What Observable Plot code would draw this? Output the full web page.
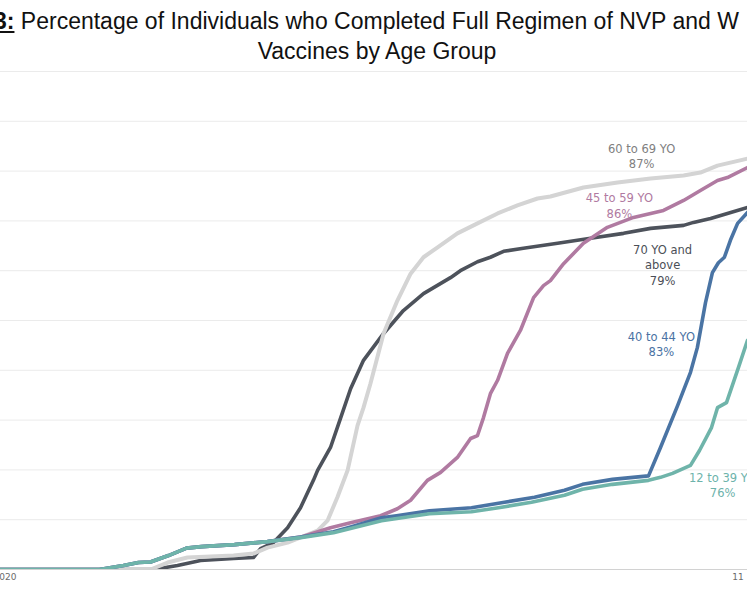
<!DOCTYPE html>
<html><head><meta charset="utf-8">
<script src="https://cdn.jsdelivr.net/npm/d3@7"></script>
<script src="https://cdn.jsdelivr.net/npm/@observablehq/plot@0.6"></script>
<style>
html,body{margin:0;padding:0;background:#fff;}
#wrap{position:relative;width:747px;height:598px;overflow:hidden;background:#fff;}
.t{position:absolute;z-index:2;font-family:"Liberation Sans",Arial,sans-serif;font-size:23px;line-height:23px;color:#111;white-space:nowrap;}
#t1{left:-6px;top:9.5px;}
#t2{left:0;width:754px;text-align:center;top:40px;}
#chart{position:absolute;z-index:1;left:0;top:60px;}
</style></head>
<body><div id="wrap">
<div id="chart"></div>
<div class="t" id="t1"><b><u>3:</u></b> Percentage of Individuals who Completed Full Regimen of NVP and W</div>
<div class="t" id="t2">Vaccines by Age Group</div>
</div>
<script>
// Age groups (drawing order: bottom to top)
const groups = ["70 YO and above", "60 to 69 YO", "45 to 59 YO", "40 to 44 YO", "12 to 39 YO"];
const colors = ["#4d525b", "#d4d4d4", "#b07aa1", "#4a74a4", "#6fb4aa"];

// Series: day index and % fully vaccinated
const days70 = [0, 51, 59, 66.7, 77.7, 84.3, 86.7, 91, 95.7, 100, 104.3, 105.7, 110, 113.3, 116.7, 121, 127.7, 134.3, 141, 150, 153.3, 159, 163.3, 167.7, 174.3, 185.7, 196.7, 207.7, 216.7, 227.7, 231, 236.7, 242.3, 249];
const pct70 = [0, 0, 0.8, 1.8, 2.2, 2.4, 4.2, 5.4, 8.4, 12.4, 17.9, 19.9, 24.5, 30.3, 36.3, 42.0, 47.4, 52.0, 55.4, 58.6, 60.0, 61.8, 62.7, 63.9, 64.5, 65.5, 66.5, 67.5, 68.5, 69.1, 69.7, 70.5, 71.5, 72.7];

const days60 = [0, 50, 55.7, 62.3, 77.7, 84.3, 89, 95.7, 105.7, 109, 112.3, 115.7, 119, 121, 123.3, 127.7, 132.3, 136.7, 141, 145.7, 152.3, 159, 165.7, 172.3, 179, 183.3, 194.3, 205.7, 216.7, 227.7, 233.3, 239, 249];
const pct60 = [0, 0, 1.4, 2.4, 2.8, 3.2, 4.4, 5.4, 7.8, 9.8, 14.5, 19.9, 28.9, 32.5, 37.3, 47.4, 54.0, 59.4, 62.7, 64.7, 67.5, 69.5, 71.5, 73.1, 74.5, 74.9, 76.7, 77.7, 78.5, 79.1, 79.7, 81.1, 82.5];

const days45 = [0, 33, 41, 46, 50, 56, 62, 67, 78, 89, 100, 110, 116.7, 126.7, 132.3, 136.7, 142.3, 146.7, 152.3, 156.7, 159, 161, 163.3, 165.7, 169, 173.3, 177.7, 181, 183.3, 187.7, 194.3, 202.3, 211, 221, 227.7, 233.3, 239, 242.3, 249];
const pct45 = [0, 0, 0.8, 1.4, 1.5, 2.8, 4.3, 4.6, 5.0, 5.6, 6.5, 8.4, 9.4, 10.8, 12.2, 13.9, 17.9, 19.5, 22.5, 26.3, 26.9, 30.5, 35.3, 38.0, 43.4, 48.0, 54.6, 57.0, 58.0, 61.4, 65.5, 68.7, 70.7, 72.1, 74.1, 76.1, 78.1, 78.7, 80.7];

const days40 = [0, 33, 41, 46, 50, 56, 62, 67, 78, 89, 100, 111, 117, 127, 132, 143, 157, 168, 178, 188, 194, 204, 216, 220, 225.7, 230, 232.3, 235, 237.3, 239.3, 241.3, 243.3, 245.7, 249];
const pct40 = [0, 0, 0.8, 1.4, 1.5, 2.8, 4.3, 4.6, 5.0, 5.6, 6.5, 7.6, 8.6, 10.4, 10.8, 11.8, 12.4, 13.5, 14.5, 15.9, 17.1, 18.1, 18.8, 24.5, 32.9, 39.6, 44.6, 53.6, 59.6, 61.6, 62.7, 66.1, 69.5, 71.7];

const days12 = [0, 33, 41, 46, 50, 56, 62, 67, 78, 89, 100, 111, 117, 127, 143, 157, 166, 177, 188, 194, 204, 216, 220, 224, 230, 233, 237, 239, 242, 246, 249];
const pct12 = [0, 0, 0.8, 1.4, 1.5, 2.8, 4.3, 4.6, 5.0, 5.6, 6.4, 7.4, 8.3, 9.8, 11.2, 11.6, 12.4, 13.5, 14.9, 16.1, 17.1, 17.9, 18.5, 19.3, 20.9, 23.9, 28.5, 32.5, 33.5, 40.6, 46.0];

const seriesDays = [days70, days60, days45, days40, days12];
const seriesPct = [pct70, pct60, pct45, pct40, pct12];

// Annotations
const labelTexts = ["70 YO and\nabove\n79%", "60 to 69 YO\n87%", "45 to 59 YO\n86%", "40 to 44 YO\n83%", "12 to 39 YO\n76%"];
const labelDays = [220.7, 213.7, 206.3, 220.3, 240.7];
const labelPcts = [61.3, 83.1, 73.2, 45.4, 17.1];
const labelColors = ["#4b4f57", "#808080", "#b07aa1", "#4a72a3", "#6db3ab"];

// Axis ticks
const gridTicks = [10, 20, 30, 40, 50, 60, 70, 80, 90, 100];
const xTickDays = [1.5, 245.8];
const xTickLabels = ["2020", "11"];

const xDomain = [0, 249];
const yDomain = [0, 100];

const marks = [
  Plot.gridY(gridTicks, {stroke: "#ebebeb", strokeOpacity: 1}),
  Plot.ruleY([0], {stroke: "#d2d2d2", strokeWidth: 1.2}),
  Plot.axisX(xTickDays, {label: null, tickSize: 0, tickPadding: 4, tickFormat: d => xTickLabels[xTickDays.indexOf(d)], fontSize: 9, fill: "#6b6b6b", fontFamily: "DejaVu Sans"})
];
groups.forEach((g, i) => {
  const rows = seriesDays[i].map((d, j) => ({group: g, day: d, pct: seriesPct[i][j]}));
  marks.push(Plot.line(rows, {x: "day", y: "pct", stroke: colors[i], strokeWidth: i === 1 ? 4 : 3.6, strokeLinejoin: "round", clip: true}));
});
labelTexts.forEach((t, i) => {
  marks.push(Plot.text([{day: labelDays[i], pct: labelPcts[i], text: t}], {x: "day", y: "pct", text: "text", fill: labelColors[i], fontSize: 11.5, lineHeight: 1.35, lineAnchor: "middle", textAnchor: "middle", fontFamily: "DejaVu Sans"}));
});

const chart = Plot.plot({
  width: 747, height: 538,
  marginTop: 11, marginBottom: 29, marginLeft: 0, marginRight: 0,
  x: {domain: xDomain, axis: null},
  y: {domain: yDomain, axis: null},
  style: {fontFamily: "DejaVu Sans", background: "transparent"},
  marks
});
document.getElementById("chart").appendChild(chart);
</script>
</body></html>
